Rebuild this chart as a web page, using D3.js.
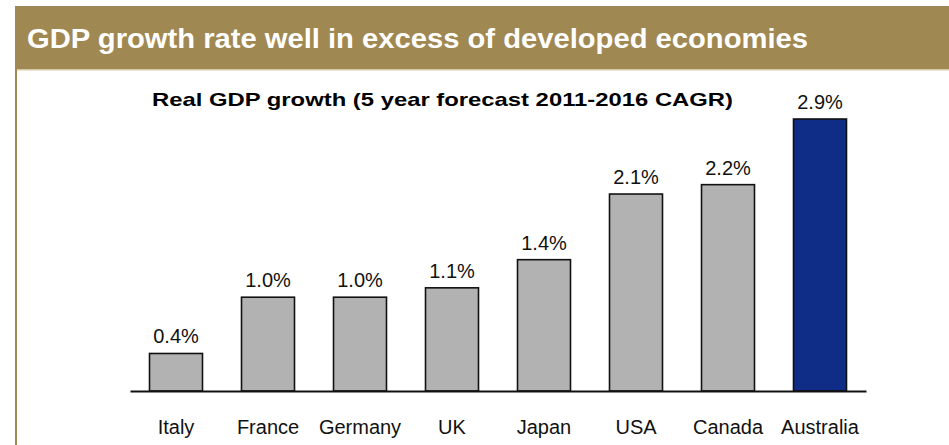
<!DOCTYPE html>
<html>
<head>
<meta charset="utf-8">
<script src="https://cdn.jsdelivr.net/npm/d3@7"></script>
<style>
  html, body { margin: 0; padding: 0; background: #ffffff; }
  svg { display: block; font-family: "Liberation Sans", Arial, sans-serif; }
</style>
</head>
<body>
<svg id="chart" width="949" height="445"></svg>
<script>
// Real GDP growth, 5 year forecast 2011-2016 CAGR (%)
const countries = ["Italy", "France", "Germany", "UK", "Japan", "USA", "Canada", "Australia"];
const growth = [0.4, 1.0, 1.0, 1.1, 1.4, 2.1, 2.2, 2.9];
const highlight = ["Australia"];

const headerText = "GDP growth rate well in excess of developed economies";
const chartTitle = "Real GDP growth (5 year forecast 2011-2016 CAGR)";

const svg = d3.select("#chart");
const W = 949, H = 445;

const gold = "#9f8852";

// Header band and frame
svg.append("rect")
  .attr("x", 15).attr("y", 6)
  .attr("width", W - 15).attr("height", 63)
  .attr("fill", gold);
svg.append("rect")
  .attr("x", 15).attr("y", 69)
  .attr("width", W - 15).attr("height", 1.5)
  .attr("fill", "#d8c9a4");
svg.append("rect")
  .attr("x", 15).attr("y", 69)
  .attr("width", 2).attr("height", H - 69)
  .attr("fill", gold);

svg.append("text")
  .attr("x", 27).attr("y", 48)
  .attr("fill", "#ffffff")
  .attr("font-weight", "bold")
  .attr("font-size", 27)
  .attr("textLength", 781)
  .attr("lengthAdjust", "spacingAndGlyphs")
  .text(headerText);

// Chart title
svg.append("text")
  .attr("x", 152).attr("y", 106)
  .attr("fill", "#000000")
  .attr("font-weight", "bold")
  .attr("font-size", 19)
  .attr("textLength", 581)
  .attr("lengthAdjust", "spacingAndGlyphs")
  .text(chartTitle);

// Scales
const x = d3.scaleBand()
  .domain(countries)
  .range([130, 866])
  .paddingInner(0.424)
  .paddingOuter(0.212);

const y = d3.scaleLinear()
  .domain([0, 2.9])
  .range([391, 119]);

const data = countries.map((c, i) => ({ country: c, value: growth[i] }));

// Bars
svg.append("g")
  .selectAll("rect")
  .data(data)
  .join("rect")
  .attr("x", d => x(d.country))
  .attr("y", d => y(d.value))
  .attr("width", x.bandwidth())
  .attr("height", d => y(0) - y(d.value))
  .attr("fill", d => highlight.includes(d.country) ? "#0f2c87" : "#b2b2b2")
  .attr("stroke", "#111111")
  .attr("stroke-width", 1.6);

// Value labels
svg.append("g")
  .selectAll("text")
  .data(data)
  .join("text")
  .attr("x", d => x(d.country) + x.bandwidth() / 2)
  .attr("y", d => y(d.value) - 10)
  .attr("text-anchor", "middle")
  .attr("font-size", 20)
  .attr("fill", "#111111")
  .text(d => d.value.toFixed(1) + "%");

// Baseline axis with category labels
const axis = d3.axisBottom(x).tickSize(0).tickPadding(0);
const gAxis = svg.append("g")
  .attr("transform", `translate(0,${y(0)})`)
  .call(axis);
gAxis.select(".domain")
  .attr("stroke", "#111111")
  .attr("stroke-width", 2);
gAxis.selectAll("text")
  .attr("font-family", "'Liberation Sans', Arial, sans-serif")
  .attr("font-size", 20)
  .attr("fill", "#111111")
  .attr("dy", 0)
  .attr("y", 43);
</script>
</body>
</html>
